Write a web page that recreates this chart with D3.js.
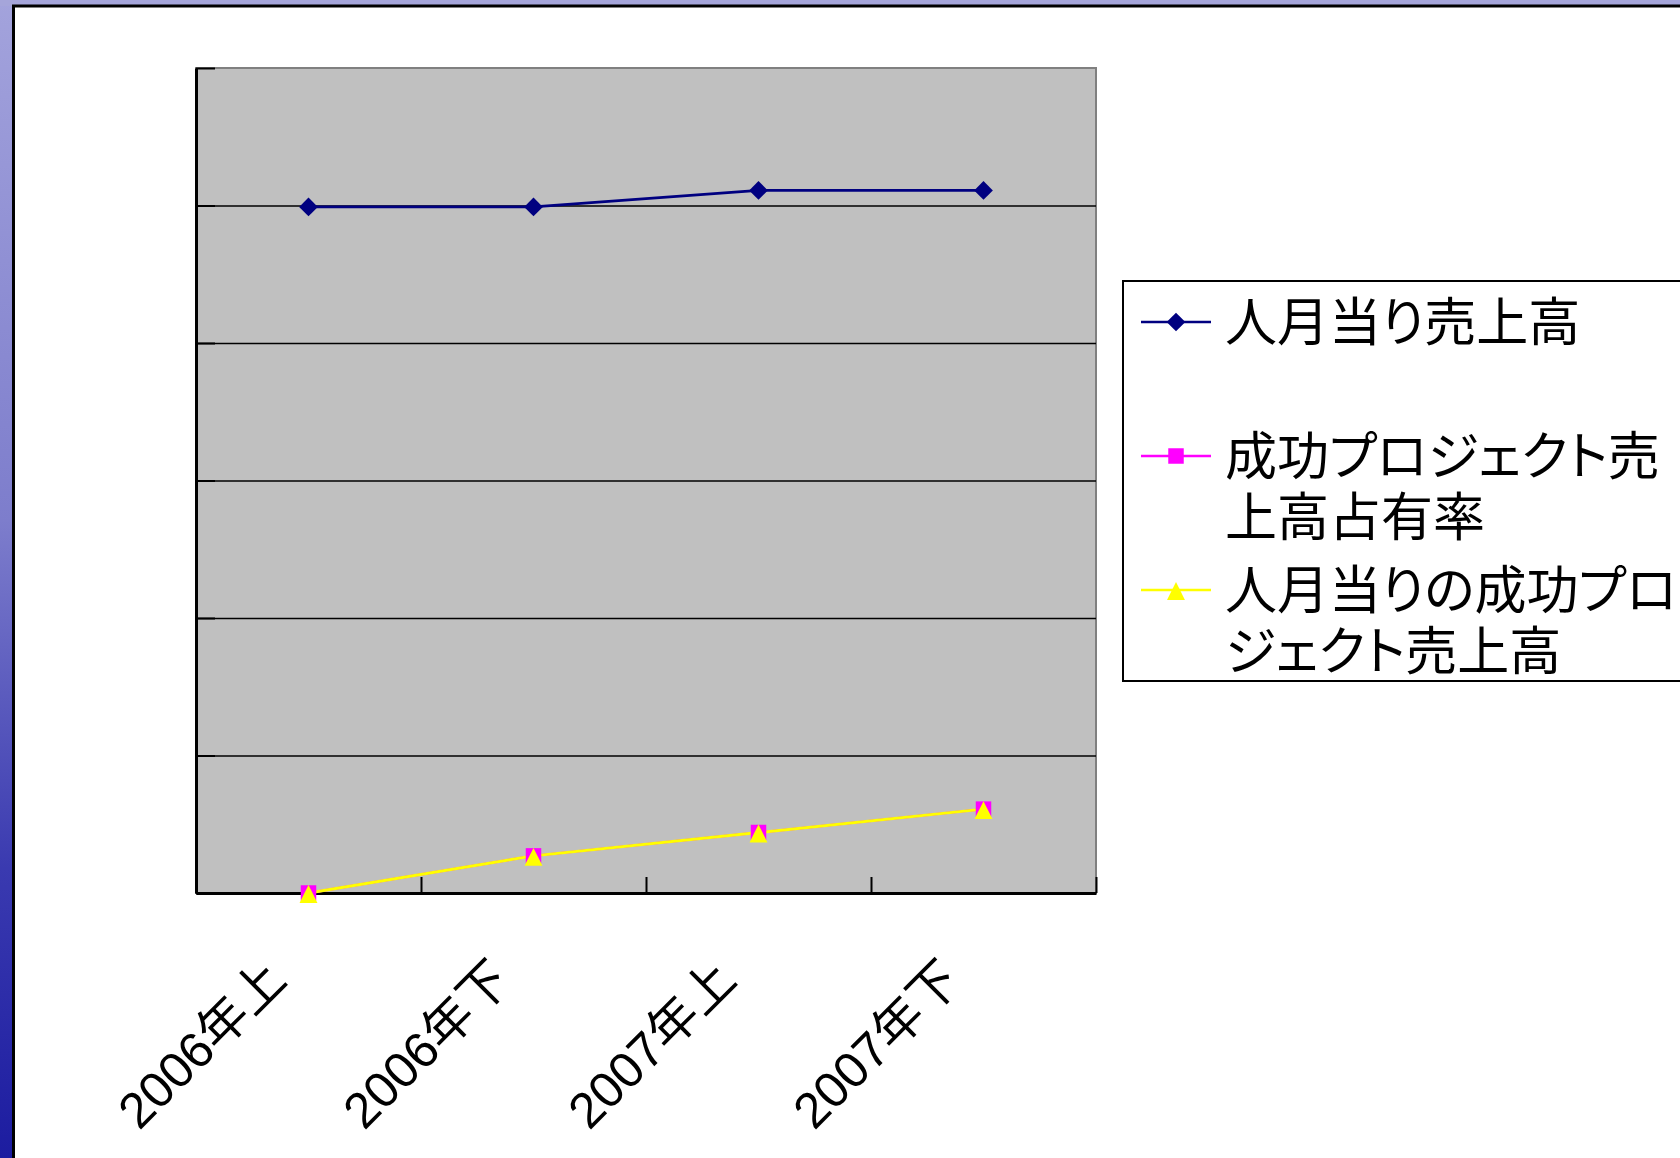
<!DOCTYPE html>
<html>
<head>
<meta charset="utf-8">
<script src="https://cdn.jsdelivr.net/npm/d3@7"></script>
<style>
  html, body { margin: 0; padding: 0; background: #fff; }
  svg { display: block; }
  text { font-family: "Liberation Sans", "Noto Sans CJK JP", sans-serif; fill: #000; font-feature-settings: "palt"; }
</style>
</head>
<body>
<svg id="chart"></svg>
<script>
const categories = ["2006年上", "2006年下", "2007年上", "2007年下"];
const salesPerManMonth = [4.99, 4.99, 5.11, 5.11];
const successShare = [0, 0.27, 0.44, 0.61];
const successSalesPerManMonth = [0, 0.27, 0.44, 0.61];
const yTicks = [0, 1, 2, 3, 4, 5, 6];
const legendLines = [
  ["人月当り売上高"],
  ["成功プロジェクト売", "上高占有率"],
  ["人月当りの成功プロ", "ジェクト売上高"]
];

const WIDTH = 1680, HEIGHT = 1158;
const PLOT = {left: 196, top: 68, right: 1096, bottom: 893};

const svg = d3.select("#chart").attr("width", WIDTH).attr("height", HEIGHT);

// slide background: blue strip on the left, lavender on top
const defs = svg.append("defs");
const grad = defs.append("linearGradient").attr("id", "side").attr("x1", 0).attr("y1", 0).attr("x2", 0).attr("y2", 1);
grad.append("stop").attr("offset", "0%").attr("stop-color", "#a3a3dc");
grad.append("stop").attr("offset", "45%").attr("stop-color", "#7d7dcc");
grad.append("stop").attr("offset", "75%").attr("stop-color", "#3a3ab0");
grad.append("stop").attr("offset", "100%").attr("stop-color", "#1c1ca0");
svg.append("rect").attr("width", WIDTH).attr("height", HEIGHT).attr("fill", "url(#side)");
svg.append("rect").attr("width", WIDTH).attr("height", 6).attr("fill", "#a5a5da");
svg.append("rect").attr("x", 13.5).attr("y", 6).attr("width", WIDTH).attr("height", HEIGHT)
  .attr("fill", "#fff").attr("stroke", "#000").attr("stroke-width", 3);

const x = d3.scaleBand().domain(categories).range([PLOT.left, PLOT.right]);
const xEdge = d3.scaleLinear().domain([0, categories.length]).range([PLOT.left, PLOT.right]);
const y = d3.scaleLinear().domain([0, 6]).range([PLOT.bottom, PLOT.top]);

const chart = svg.append("g");

// plot area
chart.append("rect")
  .attr("x", PLOT.left).attr("y", PLOT.top)
  .attr("width", PLOT.right - PLOT.left).attr("height", PLOT.bottom - PLOT.top)
  .attr("fill", "#c0c0c0").attr("stroke", "#808080").attr("stroke-width", 2);

// gridlines
chart.append("g")
  .attr("transform", `translate(${PLOT.left},0)`)
  .call(d3.axisLeft(y).tickValues(yTicks.slice(1, -1)).tickSize(-(PLOT.right - PLOT.left)).tickFormat(""))
  .call(g => g.select(".domain").remove())
  .call(g => g.selectAll("line").attr("stroke", "#000").attr("stroke-width", 1.5));

// y axis, ticks pointing inward
chart.append("g")
  .attr("transform", `translate(${PLOT.left},0)`)
  .call(d3.axisLeft(y).tickValues(yTicks).tickSize(-19).tickSizeOuter(0).tickFormat(""))
  .call(g => g.select(".domain").attr("stroke", "#000").attr("stroke-width", 3))
  .call(g => g.selectAll("line").attr("stroke", "#000").attr("stroke-width", 2));

// x axis, ticks at category edges
chart.append("g")
  .attr("transform", `translate(0,${PLOT.bottom})`)
  .call(d3.axisBottom(xEdge).tickValues(d3.range(categories.length + 1)).tickSize(-16).tickSizeOuter(0).tickFormat(""))
  .call(g => g.select(".domain").attr("stroke", "#000").attr("stroke-width", 3))
  .call(g => g.selectAll("line").attr("stroke", "#000").attr("stroke-width", 2));

// category labels
chart.append("g").selectAll("text")
  .data(categories)
  .join("text")
  .attr("transform", d => `translate(${x(d) + x.bandwidth() / 2 - 20},${PLOT.bottom + 89}) rotate(-45)`)
  .attr("text-anchor", "end")
  .attr("font-size", 50)
  .text(d => d);

// excel style triangle: apex at the square's top, base a little below
const excelTriangle = {
  draw(ctx, size) {
    const s = Math.sqrt(size);
    ctx.moveTo(0, -s / 2);
    ctx.lineTo(s * 0.56, s * 0.62);
    ctx.lineTo(-s * 0.56, s * 0.62);
    ctx.closePath();
  }
};

const series = [
  {name: "s1", values: salesPerManMonth, color: "#000080", symbol: d3.symbolSquare, size: 175, rotate: 45, width: 2.8},
  {name: "s2", values: successShare, color: "#ff00ff", symbol: d3.symbolSquare, size: 240, rotate: 0, width: 2.5},
  {name: "s3", values: successSalesPerManMonth, color: "#ffff00", symbol: excelTriangle, size: 256, rotate: 0, width: 3}
];

const line = d3.line()
  .x((d, i) => x(categories[i]) + x.bandwidth() / 2)
  .y(d => y(d));

series.forEach(s => {
  chart.append("path")
    .datum(s.values)
    .attr("fill", "none")
    .attr("stroke", s.color)
    .attr("stroke-width", s.width)
    .attr("d", line);
});

series.forEach(s => {
  chart.append("g").selectAll("path")
    .data(s.values)
    .join("path")
    .attr("transform", (d, i) => `translate(${x(categories[i]) + x.bandwidth() / 2},${y(d)}) rotate(${s.rotate})`)
    .attr("d", d3.symbol().type(s.symbol).size(s.size))
    .attr("fill", s.color);
});

// legend
const legend = svg.append("g");
legend.append("rect")
  .attr("x", 1123).attr("y", 281).attr("width", 600).attr("height", 400)
  .attr("fill", "#fff").attr("stroke", "#000").attr("stroke-width", 2);

const legendY = [322, 456, 590];
const items = legend.selectAll(".item")
  .data(series)
  .join("g")
  .attr("class", "item")
  .attr("transform", (d, i) => `translate(0,${legendY[i]})`);

items.append("line")
  .attr("x1", 1141).attr("x2", 1211)
  .attr("stroke", d => d.color).attr("stroke-width", 2.5);
items.append("path")
  .attr("transform", d => `translate(1176,0) rotate(${d.rotate})`)
  .attr("d", d => d3.symbol().type(d.symbol).size(d.size)())
  .attr("fill", d => d.color);
items.append("text")
  .attr("x", 1225)
  .attr("font-size", 52)
  .selectAll("tspan")
  .data((d, i) => legendLines[i])
  .join("tspan")
  .attr("x", 1225)
  .attr("y", (d, j) => 19 + j * 61)
  .text(d => d);
</script>
</body>
</html>
